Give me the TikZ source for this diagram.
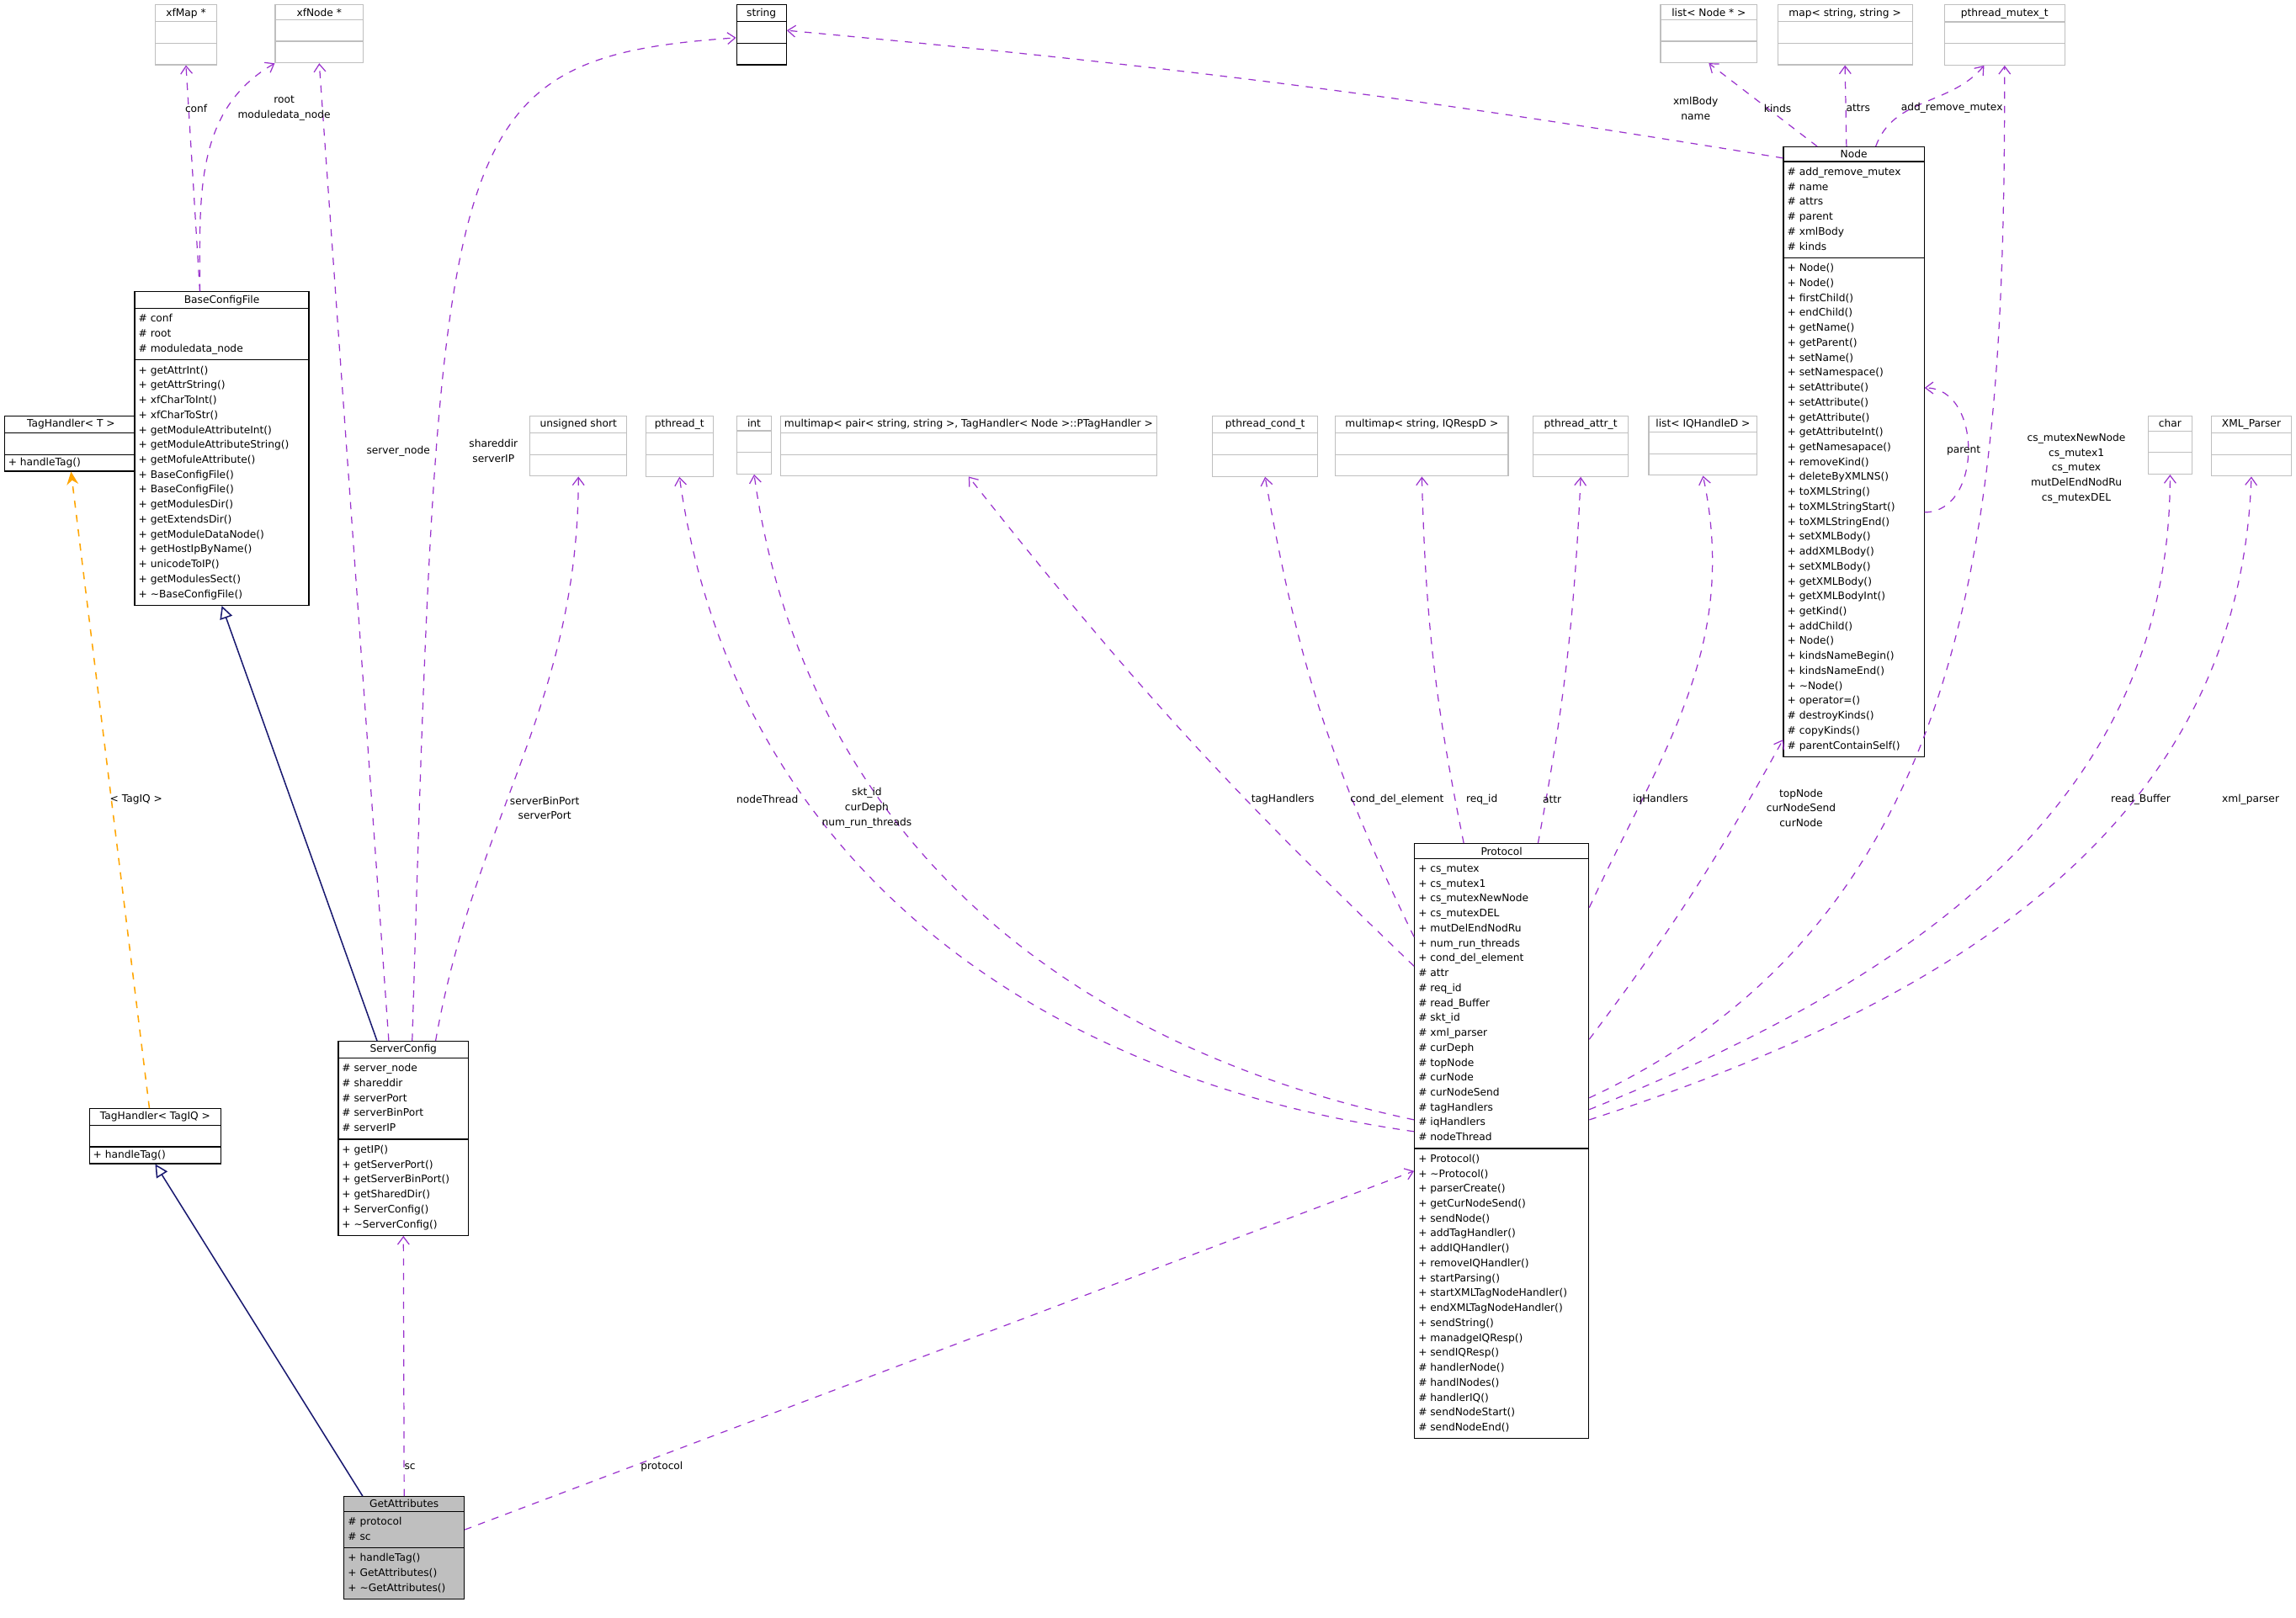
\documentclass[tikz,border=0pt]{standalone}
\usepackage{fontspec}
\setmainfont{DejaVu Sans}
\usetikzlibrary{shapes.multipart,arrows.meta}
\definecolor{uses}{HTML}{9A32CD}
\definecolor{navy}{HTML}{191970}
\definecolor{tmplc}{HTML}{FFA500}
\newcommand{\fnt}{\fontsize{4.0}{5.8}\selectfont}
\newcommand{\tld}{\textasciitilde}
\newcommand{\rows}[1]{\begin{tabular}{@{}l@{}}#1\end{tabular}}
\tikzset{
  cls/.style={draw=black, rectangle split, rectangle split parts=3, anchor=north,
    rectangle split part align={center,left,left}, minimum width=#1*0.02cm,
    inner xsep=1.5pt, inner ysep=1.1pt, font=\fnt, fill=white, line width=0.4pt},
  ext/.style={cls=#1, draw=gray!50},
  uses/.style={draw=uses, line width=0.4pt, dash pattern=on 2.8pt off 2.8pt,
    -{Straight Barb[length=3pt,width=4.5pt]}},
  inh/.style={draw=navy, line width=0.5pt, -{Triangle[open,length=5pt,width=5pt]}},
  tmpl/.style={draw=tmplc, line width=0.5pt, dash pattern=on 2.8pt off 2.8pt,
    -{Stealth[length=5pt,width=4.5pt]}},
  lbl/.style={font=\fnt, align=center, inner sep=0}
}
\begin{document}
\begin{tikzpicture}[x=0.02cm,y=-0.02cm]
\useasboundingbox (0,0) rectangle (1568,1105);
% external types
\node[ext=42] (xfmap) at (127,3) {xfMap *\nodepart{two}\strut\nodepart{three}\strut};
\node[ext=60] (xfnode) at (218,3) {xfNode *\nodepart{two}\strut\nodepart{three}\strut};
\node[cls=34] (str) at (520,3) {string\nodepart{two}\strut\nodepart{three}\strut};
\node[ext=66] (listnode) at (1167,3) {list< Node * >\nodepart{two}\strut\nodepart{three}\strut};
\node[ext=92] (mapss) at (1260,3) {map< string, string >\nodepart{two}\strut\nodepart{three}\strut};
\node[ext=82] (pmutex) at (1369,3) {pthread\_mutex\_t\nodepart{two}\strut\nodepart{three}\strut};
\node[ext=66] (ushort) at (395,284) {unsigned short\nodepart{two}\strut\nodepart{three}\strut};
\node[ext=46] (pth) at (464,284) {pthread\_t\nodepart{two}\strut\nodepart{three}\strut};
\node[ext=24] (int) at (515,284) {int\nodepart{two}\strut\nodepart{three}\strut};
\node[ext=247] (mmpair) at (661.5,284) {multimap< pair< string, string >, TagHandler< Node >::PTagHandler >\nodepart{two}\strut\nodepart{three}\strut};
\node[ext=72] (pcond) at (864,284) {pthread\_cond\_t\nodepart{two}\strut\nodepart{three}\strut};
\node[ext=118] (mmiq) at (971,284) {multimap< string, IQRespD >\nodepart{two}\strut\nodepart{three}\strut};
\node[ext=65] (pattr) at (1079.5,284) {pthread\_attr\_t\nodepart{two}\strut\nodepart{three}\strut};
\node[ext=74] (listiq) at (1163,284) {list< IQHandleD >\nodepart{two}\strut\nodepart{three}\strut};
\node[ext=30] (chr) at (1482,284) {char\nodepart{two}\strut\nodepart{three}\strut};
\node[ext=55] (xmlp) at (1537.5,284) {XML\_Parser\nodepart{two}\strut\nodepart{three}\strut};
% classes
\node[cls=91] (tht) at (48.5,284) {TagHandler< T >\nodepart{two}\strut\nodepart{three}+ handleTag()};
\node[cls=90] (thiq) at (106,757) {TagHandler< TagIQ >\nodepart{two}\strut\nodepart{three}+ handleTag()};
\node[cls=119] (bcf) at (151.5,199) {BaseConfigFile\nodepart{two}\rows{\# conf\\\# root\\\# moduledata\_node}
  \nodepart{three}\rows{+ getAttrInt()\\+ getAttrString()\\+ xfCharToInt()\\+ xfCharToStr()\\+ getModuleAttributeInt()\\+ getModuleAttributeString()\\+ getMofuleAttribute()\\+ BaseConfigFile()\\+ BaseConfigFile()\\+ getModulesDir()\\+ getExtendsDir()\\+ getModuleDataNode()\\+ getHostIpByName()\\+ unicodeToIP()\\+ getModulesSect()\\+ \tld BaseConfigFile()}};
\node[cls=96] (nd) at (1266,100) {Node\nodepart{two}\rows{\# add\_remove\_mutex\\\# name\\\# attrs\\\# parent\\\# xmlBody\\\# kinds}
  \nodepart{three}\rows{+ Node()\\+ Node()\\+ firstChild()\\+ endChild()\\+ getName()\\+ getParent()\\+ setName()\\+ setNamespace()\\+ setAttribute()\\+ setAttribute()\\+ getAttribute()\\+ getAttributeInt()\\+ getNamesapace()\\+ removeKind()\\+ deleteByXMLNS()\\+ toXMLString()\\+ toXMLStringStart()\\+ toXMLStringEnd()\\+ setXMLBody()\\+ addXMLBody()\\+ setXMLBody()\\+ getXMLBody()\\+ getXMLBodyInt()\\+ getKind()\\+ addChild()\\+ Node()\\+ kindsNameBegin()\\+ kindsNameEnd()\\+ \tld Node()\\+ operator=()\\\# destroyKinds()\\\# copyKinds()\\\# parentContainSelf()}};
\node[cls=89] (sc) at (275.5,711) {ServerConfig\nodepart{two}\rows{\# server\_node\\\# shareddir\\\# serverPort\\\# serverBinPort\\\# serverIP}
  \nodepart{three}\rows{+ getIP()\\+ getServerPort()\\+ getServerBinPort()\\+ getSharedDir()\\+ ServerConfig()\\+ \tld ServerConfig()}};
\node[cls=119] (pro) at (1025.5,576) {Protocol\nodepart{two}\rows{+ cs\_mutex\\+ cs\_mutex1\\+ cs\_mutexNewNode\\+ cs\_mutexDEL\\+ mutDelEndNodRu\\+ num\_run\_threads\\+ cond\_del\_element\\\# attr\\\# req\_id\\\# read\_Buffer\\\# skt\_id\\\# xml\_parser\\\# curDeph\\\# topNode\\\# curNode\\\# curNodeSend\\\# tagHandlers\\\# iqHandlers\\\# nodeThread}
  \nodepart{three}\rows{+ Protocol()\\+ \tld Protocol()\\+ parserCreate()\\+ getCurNodeSend()\\+ sendNode()\\+ addTagHandler()\\+ addIQHandler()\\+ removeIQHandler()\\+ startParsing()\\+ startXMLTagNodeHandler()\\+ endXMLTagNodeHandler()\\+ sendString()\\+ manadgeIQResp()\\+ sendIQResp()\\\# handlerNode()\\\# handlNodes()\\\# handlerIQ()\\\# sendNodeStart()\\\# sendNodeEnd()}};
\node[cls=82, fill=gray!50] (ga) at (276,1022) {GetAttributes\nodepart{two}\rows{\# protocol\\\# sc}
  \nodepart{three}\rows{+ handleTag()\\+ GetAttributes()\\+ \tld GetAttributes()}};
% inheritance
\draw[inh] (ga.north west) ++(13,0) coordinate (ga1) -- (thiq.south);
\draw[inh] (sc.north) ++(-18,0) coordinate (sc1) -- (bcf.south);
\draw[tmpl] (thiq.north) ++(-4,0) coordinate (thiq1) -- (tht.south);
% usage
\draw[uses] (bcf.north) ++(-15,0) coordinate (bcf1) -- (xfmap.south);
\draw[uses] (bcf1) to[out=90,in=210] (xfnode.south west);
\draw[uses] (sc.north) ++(-10,0) coordinate (sc2) -- (xfnode.south);
\draw[uses] (sc.north) ++(6,0) coordinate (sc3) .. controls (300,90) and (300,40) .. ([yshift=-0.04cm]str.west);
\draw[uses] (sc.north) ++(22,0) coordinate (sc4) to[out=80,in=-90] (ushort.south);
\draw[uses] ([yshift=-3.94cm]pro.north west) to[out=172,in=-82] (pth.south);
\draw[uses] ([yshift=-3.78cm]pro.north west) to[out=168,in=-82] (int.south);
\draw[uses] ([yshift=-1.68cm]pro.north west) to[bend left=4] (mmpair.south);
\draw[uses] ([yshift=-1.28cm]pro.north west) to[bend left=8] (pcond.south);
\draw[uses] ([xshift=0.68cm]pro.north west) to[bend left=5] (mmiq.south);
\draw[uses] ([xshift=-0.7cm]pro.north east) to[bend right=4] (pattr.south);
\draw[uses] ([yshift=-0.88cm]pro.north east) to[out=65,in=-78] (listiq.south);
\draw[uses] ([yshift=-2.68cm]pro.north east) to[bend right=4] ([yshift=0.24cm]nd.south west);
\draw[uses] ([yshift=-3.48cm]pro.north east) to[out=25,in=-90] (pmutex.south);
\draw[uses] ([yshift=-3.64cm]pro.north east) to[out=22,in=-90] (chr.south);
\draw[uses] ([yshift=-3.78cm]pro.north east) to[out=18,in=-92] (xmlp.south);
\draw[uses] ([yshift=-0.16cm]nd.north west) to[bend right=2] ([yshift=0.06cm]str.east);
\draw[uses] ([xshift=-0.5cm]nd.north) to (listnode.south);
\draw[uses] ([xshift=-0.1cm]nd.north) to (mapss.south);
\draw[uses] ([xshift=0.3cm]nd.north) to[out=70,in=-130] ([xshift=-0.28cm]pmutex.south);
\draw[uses] ([yshift=-5cm]nd.north east) to[out=0,in=0,looseness=1.2] ([yshift=-3.3cm]nd.north east);
\draw[uses] (ga.north) -- (sc.south);
\draw[uses] ([yshift=-0.46cm]ga.north east) -- ([yshift=-4.48cm]pro.north west);
% labels
\node[lbl] (lconf) at (134,74) {conf};
\node[lbl] (lroot) at (194,74) {root\\moduledata\_node};
\node[lbl] (lsrvnode) at (272,308) {server\_node};
\node[lbl] (lshared) at (337,308) {shareddir\\serverIP};
\node[lbl] (lport) at (372,552) {serverBinPort\\serverPort};
\node[lbl] (lthread) at (524,546) {nodeThread};
\node[lbl] (lskt) at (592,552) {skt\_id\\curDeph\\num\_run\_threads};
\node[lbl] (ltag) at (876,546) {tagHandlers};
\node[lbl] (lcond) at (954,546) {cond\_del\_element};
\node[lbl] (lreq) at (1012,546) {req\_id};
\node[lbl] (lattr) at (1060,546) {attr};
\node[lbl] (liq) at (1134,546) {iqHandlers};
\node[lbl] (ltop) at (1230,552) {topNode\\curNodeSend\\curNode};
\node[lbl] (lmutex) at (1418,320) {cs\_mutexNewNode\\cs\_mutex1\\cs\_mutex\\mutDelEndNodRu\\cs\_mutexDEL};
\node[lbl] (lbuf) at (1462,546) {read\_Buffer};
\node[lbl] (lxml) at (1537,546) {xml\_parser};
\node[lbl] (lxmlbody) at (1158,74) {xmlBody\\name};
\node[lbl] (lkinds) at (1214,74) {kinds};
\node[lbl] (lattrs) at (1269,74) {attrs};
\node[lbl] (laddrm) at (1333,74) {add\_remove\_mutex};
\node[lbl] (lparent) at (1341,308) {parent};
\node[lbl] (ltagiq) at (93,546) {< TagIQ >};
\node[lbl] (lsc) at (280,1002) {sc};
\node[lbl] (lproto) at (452,1002) {protocol};
\end{tikzpicture}
\end{document}
